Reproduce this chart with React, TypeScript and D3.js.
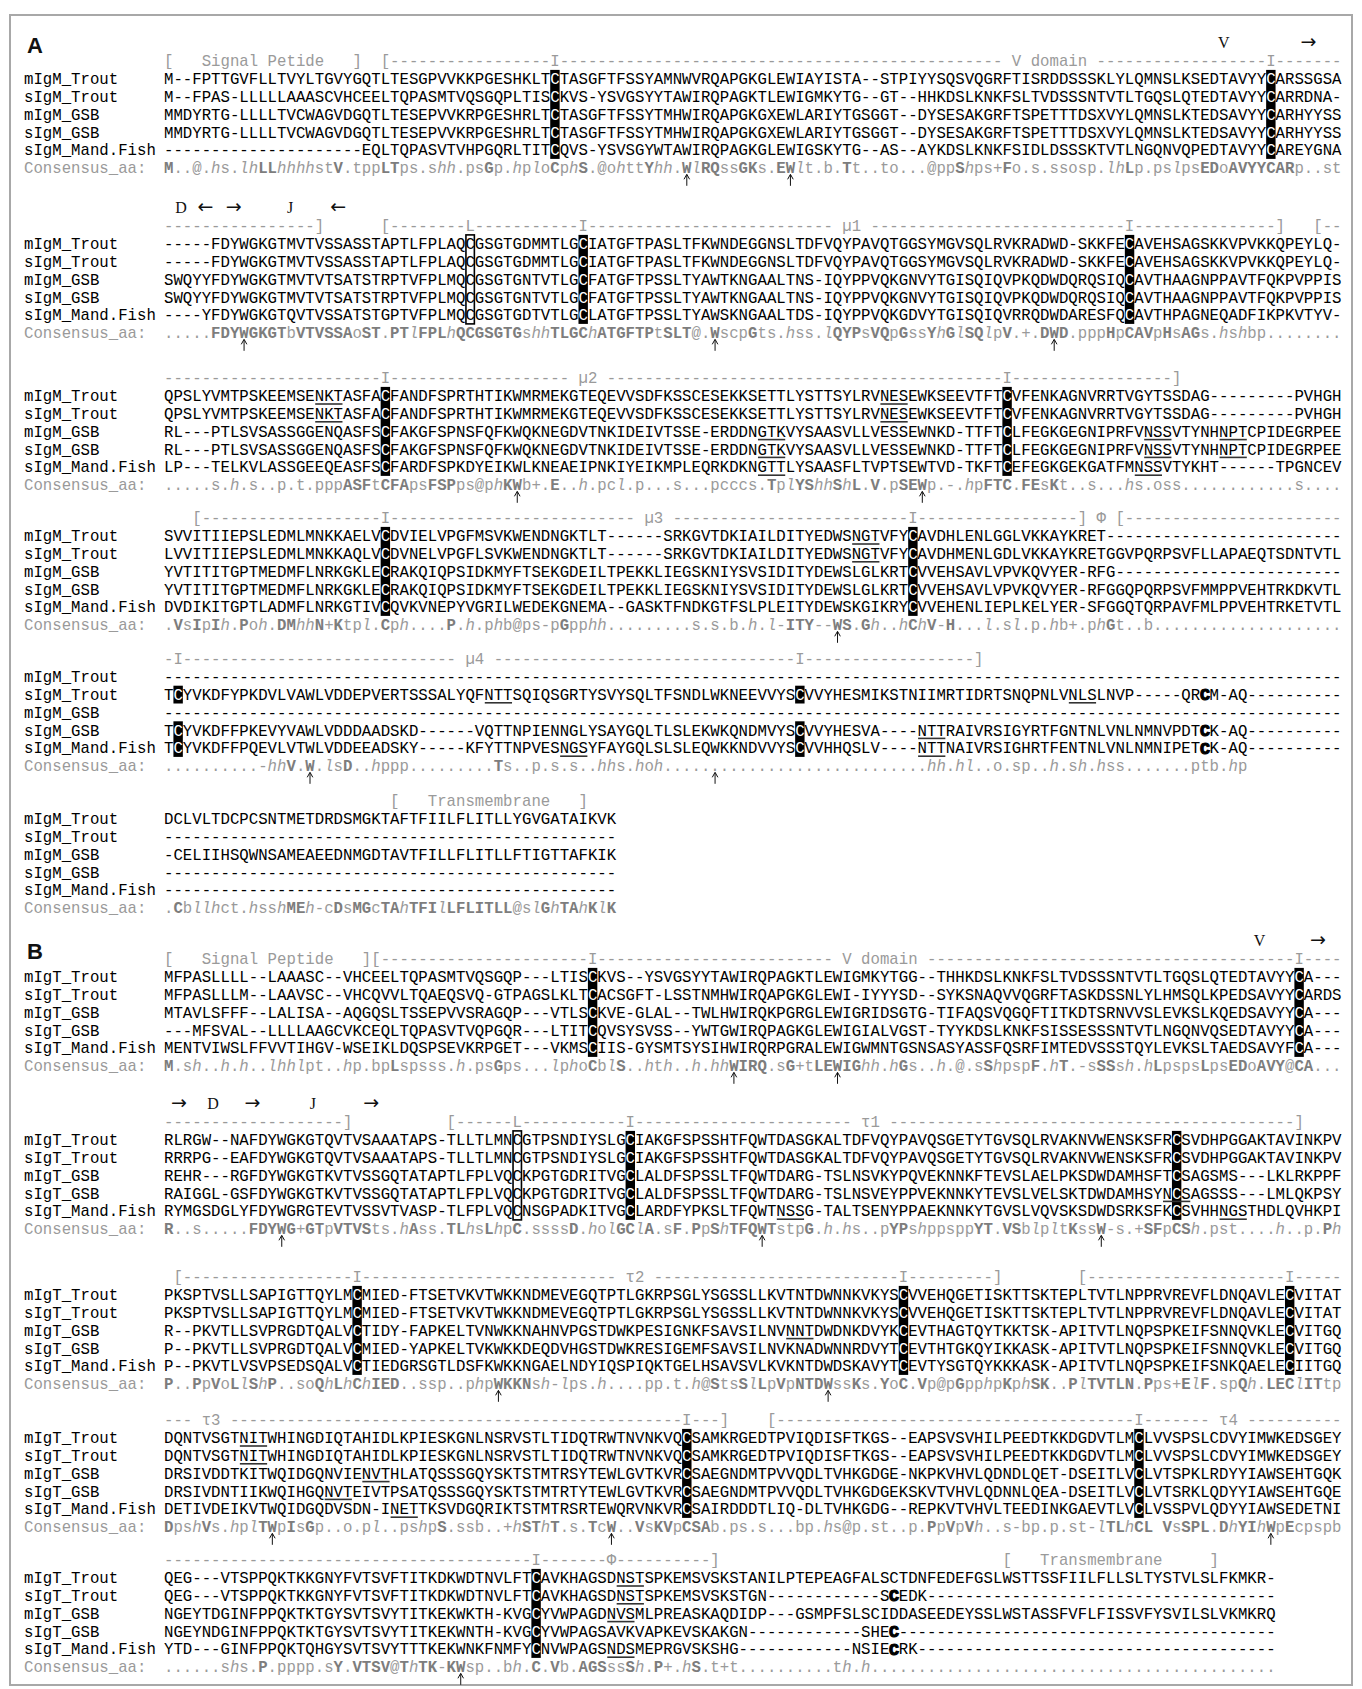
import React from "react";
import * as d3 from "d3";

const dash = (n: number) => "-".repeat(n);
const gap = (n: number) => " ".repeat(n);

// ---------------- panel A : IgM ----------------
const namesA = ["mIgM_Trout", "sIgM_Trout", "mIgM_GSB", "sIgM_GSB", "sIgM_Mand.Fish"];

const annA1 = "[   Signal Petide   ]  [" + dash(17) + "I" + dash(47) + " V domain " + dash(18) + "I" + dash(7);
const headA1: [number, string][] = [[112.5, "V"], [121.5, "\u2192"]];
const seqA1 = [
  "M--FPTTGVFLLTVYLTGVYGQTLTESGPVVKKPGESHKLTCTASGFTFSSYAMNWVRQAPGKGLEWIAYISTA--STPIYYSQSVQGRFTISRDDSSSKLYLQMNSLKSEDTAVYYCARSSGSA",
  "M--FPAS-LLLLLAAASCVHCEELTQPASMTVQSGQPLTISCKVS-YSVGSYYTAWIRQPAGKTLEWIGMKYTG--GT--HHKDSLKNKFSLTVDSSSNTVTLTGQSLQTEDTAVYYCARRDNA-",
  "MMDYRTG-LLLLTVCWAGVDGQTLTESEPVVKRPGESHRLTCTASGFTFSSYTMHWIRQAPGKGXEWLARIYTGSGGT--DYSESAKGRFTSPETTTDSXVYLQMNSLKTEDSAVYYCARHYYSS",
  "MMDYRTG-LLLLTVCWAGVDGQTLTESEPVVKRPGESHRLTCTASGFTFSSYTMHWIRQAPGKGXEWLARIYTGSGGT--DYSESAKGRFTSPETTTDSXVYLQMNSLKTEDSAVYYCARHYYSS",
  "---------------------EQLTQPASVTVHPGQRLTITCQVS-YSVSGYWTAWIRQPAGKGLEWIGSKYTG--AS--AYKDSLKNKFSIDLDSSSKTVTLNGQNVQPEDTAVYYCAREYGNA",
];
const consA1 = "M..@.hs.lhLLhhhhstV.tppLTps.shh.psGp.hploCphS.@ohttYhh.WlRQssGKs.EWlt.b.Tt..to...@ppShps+Fo.s.ssosp.lhLp.pslpsEDoAVYYCARp..st";
const boxA1 = [41, 117];
const arrowA1 = [55, 66];

const annA2 = dash(16) + "]" + gap(6) + "[" + dash(8) + "L" + dash(11) + "I" + dash(26) + " \u00b51 " + dash(27) + "I" + dash(15) + "]" + gap(3) + "[--";
const headA2: [number, string][] = [[1.8, "D"], [4.4, "\u2190"], [7.4, "\u2192"], [13.4, "J"], [18.5, "\u2190"]];
const seqA2 = [
  "-----FDYWGKGTMVTVSSASSTAPTLFPLAQCGSGTGDMMTLGCIATGFTPASLTFKWNDEGGNSLTDFVQYPAVQTGGSYMGVSQLRVKRADWD-SKKFECAVEHSAGSKKVPVKKQPEYLQ-",
  "-----FDYWGKGTMVTVSSASSTAPTLFPLAQCGSGTGDMMTLGCIATGFTPASLTFKWNDEGGNSLTDFVQYPAVQTGGSYMGVSQLRVKRADWD-SKKFECAVEHSAGSKKVPVKKQPEYLQ-",
  "SWQYYFDYWGKGTMVTVTSATSTRPTVFPLMQCGSGTGNTVTLGCFATGFTPSSLTYAWTKNGAALTNS-IQYPPVQKGNVYTGISQIQVPKQDWDQRQSIQCAVTHAAGNPPAVTFQKPVPPIS",
  "SWQYYFDYWGKGTMVTVTSATSTRPTVFPLMQCGSGTGNTVTLGCFATGFTPSSLTYAWTKNGAALTNS-IQYPPVQKGNVYTGISQIQVPKQDWDQRQSIQCAVTHAAGNPPAVTFQKPVPPIS",
  "----YFDYWGKGTQVTVSSATSTGPTVFPLMQCGSGTGDTVTLGCLATGFTPSSLTYAWSKNGAALTDS-IQYPPVQKGDVYTGISQIQVRRQDWDARESFQCAVTHPAGNEQADFIKPKVTYV-",
];
const consA2 = ".....FDYWGKGTbVTVSSAoST.PTlFPLhQCGSGTGshhTLGChATGFTPtSLT@.WscpGts.hss.lQYPsVQpGssYhGlSQlpV.+.DWD.pppHpCAVpHsAGs.hshbp........";
const boxA2 = [44, 102];
const hollowA2 = [32];
const arrowA2 = [8, 58, 94];

const annA3 = dash(23) + "I" + dash(19) + " \u00b52 " + dash(42) + "I" + dash(17) + "]";
const seqA3 = [
  "QPSLYVMTPSKEEMSENKTASFACFANDFSPRTHTIKWMRMEKGTEQEVVSDFKSSCESEKKSETTLYSTTSYLRVNESEWKSEEVTFTCVFENKAGNVRRTVGYTSSDAG---------PVHGH",
  "QPSLYVMTPSKEEMSENKTASFACFANDFSPRTHTIKWMRMEKGTEQEVVSDFKSSCESEKKSETTLYSTTSYLRVNESEWKSEEVTFTCVFENKAGNVRRTVGYTSSDAG---------PVHGH",
  "RL---PTLSVSASSGGENQASFSCFAKGFSPNSFQFKWQKNEGDVTNKIDEIVTSSE-ERDDNGTKVYSAASVLLVESSEWNKD-TTFTCLFEGKGEGNIPRFVNSSVTYNHNPTCPIDEGRPEE",
  "RL---PTLSVSASSGGENQASFSCFAKGFSPNSFQFKWQKNEGDVTNKIDEIVTSSE-ERDDNGTKVYSAASVLLVESSEWNKD-TTFTCLFEGKGEGNIPRFVNSSVTYNHNPTCPIDEGRPEE",
  "LP---TELKVLASSGEEQEASFSCFARDFSPKDYEIKWLKNEAEIPNKIYEIKMPLEQRKDKNGTTLYSAASFLTVPTSEWTVD-TKFTCEFEGKGEKGATFMNSSVTYKHT------TPGNCEV",
];
const consA3 = ".....s.h.s..p.t.pppASFtCFApsFSPps@phKWb+.E..h.pcl.p...s...pcccs.TplYShhShL.V.pSEWp.-.hpFTC.FEsKt..s...hs.oss............s....";
const boxA3 = [23, 89];
const underA3: [number, number, number][] = [
  [0, 16, 3], [0, 76, 3], [1, 16, 3], [1, 76, 3],
  [2, 63, 3], [2, 104, 3], [2, 112, 3], [3, 63, 3], [3, 104, 3], [3, 112, 3],
  [4, 63, 3], [4, 103, 3],
];
const arrowA3 = [37, 80];

const annA4 = "   [" + dash(19) + "I" + dash(26) + " \u00b53 " + dash(25) + "I" + dash(17) + "] \u03a6 [" + dash(23);
const seqA4 = [
  "SVVITIIEPSLEDMLMNKKAELVCDVIELVPGFMSVKWENDNGKTLT------SRKGVTDKIAILDITYEDWSNGTVFYCAVDHLENLGGLVKKAYKRET" + dash(25),
  "LVVITIIEPSLEDMLMNKKAQLVCDVNELVPGFLSVKWENDNGKTLT------SRKGVTDKIAILDITYEDWSNGTVFYCAVDHMENLGDLVKKAYKRETGGVPQRPSVFLLAPAEQTSDNTVTL",
  "YVTITITGPTMEDMFLNRKGKLECRAKQIQPSIDKMYFTSEKGDEILTPEKKLIEGSKNIYSVSIDITYDEWSLGLKRTCVVEHSAVLVPVKQVYER-RFG" + dash(24),
  "YVTITITGPTMEDMFLNRKGKLECRAKQIQPSIDKMYFTSEKGDEILTPEKKLIEGSKNIYSVSIDITYDEWSLGLKRTCVVEHSAVLVPVKQVYER-RFGGQPQRPSVFMMPPVEHTRKDKVTL",
  "DVDIKITGPTLADMFLNRKGTIVCQVKVNEPYVGRILWEDEKGNEMA--GASKTFNDKGTFSLPLEITYDEWSKGIKRYCVVEHENLIEPLKELYER-SFGGQTQRPAVFMLPPVEHTRKETVTL",
];
const consA4 = ".VsIpIh.Poh.DMhhN+Ktpl.Cph....P.h.phb@ps-pGpphh.........s.s.b.h.l-ITY--WS.Gh..hChV-H...l.sl.p.hb+.phGt..b" + ".".repeat(20);
const boxA4 = [23, 79];
const underA4: [number, number, number][] = [[0, 73, 3], [1, 73, 3]];
const arrowA4 = [71];

const annA5 = "-I" + dash(29) + " \u00b54 " + dash(32) + "I" + dash(18) + "]";
const seqA5 = [
  dash(125),
  "TCYVKDFYPKDVLVAWLVDDEPVERTSSSALYQFNTTSQIQSGRTYSVYSQLTFSNDLWKNEEVVYSCVVYHESMIKSTNIIMRTIDRTSNQPNLVNLSLNVP-----QRCM-AQ" + dash(10),
  dash(125),
  "TCYVKDFFPKEVYVAWLVDDDAADSKD------VQTTNPIENNGLYSAYGQLTLSLEKWKQNDMVYSCVVYHESVA----NTTRAIVRSIGYRTFGNTNLVNLNMNVPDTCK-AQ" + dash(10),
  "TCYVKDFFPQEVLVTWLVDDEEADSKY-----KFYTTNPVESNGSYFAYGQLSLSLEQWKKNDVVYSCVVHHQSLV----NTTNAIVRSIGHRTFENTNLVNLNMNIPETCK-AQ" + dash(10),
];
const consA5 = "..........-hhV.W.lsD..hppp.........Ts..p.s.s..hhs.hoh" + ".".repeat(28) + "hh.hl..o.sp..h.sh.hss.......ptb.hp";
const boxA5 = [1, 67];
const boldA5: [number, number][] = [[1, 110], [3, 110], [4, 110]];
const underA5: [number, number, number][] = [[1, 34, 3], [1, 96, 3], [3, 80, 3], [4, 42, 3], [4, 80, 3]];
const arrowA5 = [15, 58];

const annA6 = gap(24) + "[   Transmembrane   ]";
const seqA6 = [
  "DCLVLTDCPCSNTMETDRDSMGKTAFTFIILFLITLLYGVGATAIKVK",
  dash(48),
  "-CELIIHSQWNSAMEAEEDNMGDTAVTFILLFLITLLFTIGTTAFKIK",
  dash(48),
  dash(48),
];
const consA6 = ".Cbllhct.hsshMEh-cDsMGcTAhTFIlLFLITLL@slGhTAhKlK";

// ---------------- panel B : IgT ----------------
const namesB = ["mIgT_Trout", "sIgT_Trout", "mIgT_GSB", "sIgT_GSB", "sIgT_Mand.Fish"];

const annB1 = "[   Signal Peptide   ][" + dash(22) + "I" + dash(25) + " V domain " + dash(39) + "I" + dash(4);
const headB1: [number, string][] = [[116.3, "V"], [122.5, "\u2192"]];
const seqB1 = [
  "MFPASLLLL--LAAASC--VHCEELTQPASMTVQSGQP---LTISCKVS--YSVGSYYTAWIRQPAGKTLEWIGMKYTGG--THHKDSLKNKFSLTVDSSSNTVTLTGQSLQTEDTAVYYCA---",
  "MFPASLLLM--LAAVSC--VHCQVVLTQAEQSVQ-GTPAGSLKLTCACSGFT-LSSTNMHWIRQAPGKGLEWI-IYYYSD--SYKSNAQVVQGRFTASKDSSNLYLHMSQLKPEDSAVYYCARDS",
  "MTAVLSFFF--LALISA--AQGQSLTSSEPVVSRAGQP---VTLSCKVE-GLAL--TWLHWIRQKPGRGLEWIGRIDSGTG-TIFAQSVQGQFTITKDTSRNVVSLEVKSLKQEDSAVYYCA---",
  "---MFSVAL--LLLLAAGCVKCEQLTQPASVTVQPGQR---LTITCQVSYSVSS--YWTGWIRQPAGKGLEWIGIALVGST-TYYKDSLKNKFSISSESSSNTVTLNGQNVQSEDTAVYYCA---",
  "MENTVIWSLFFVVTIHGV-WSEIKLDQSPSEVKRPGET---VKMSCIIS-GYSMTSYSIHWIRQRPGRALEWIGWMNTGSNSASYASSFQSRFIMTEDVSSSTQYLEVKSLTAEDSAVYFCA---",
];
const consB1 = "M.sh..h.h..lhhlpt..hp.bpLspsss.h.psGps...lphoCblS..hth..h.hhWIRQ.sG+tLEWIGhh.hGs..h.@.sShpspF.hT.-sSSsh.hLpspsLpsEDoAVY@CA...";
const boxB1 = [45, 120];
const arrowB1 = [60, 71];

const annB2 = dash(19) + "]" + gap(10) + "[" + dash(6) + "L" + dash(11) + "I" + dash(23) + " \u03c41 " + dash(43) + "]";
const headB2: [number, string][] = [[1.6, "\u2192"], [5.2, "D"], [9.4, "\u2192"], [15.8, "J"], [22, "\u2192"]];
const seqB2 = [
  "RLRGW--NAFDYWGKGTQVTVSAAATAPS-TLLTLMNCGTPSNDIYSLGCIAKGFSPSSHTFQWTDASGKALTDFVQYPAVQSGETYTGVSQLRVAKNVWENSKSFRCSVDHPGGAKTAVINKPV",
  "RRRPG--EAFDYWGKGTQVTVSAAATAPS-TLLTLMNCGTPSNDIYSLGCIAKGFSPSSHTFQWTDASGKALTDFVQYPAVQSGETYTGVSQLRVAKNVWENSKSFRCSVDHPGGAKTAVINKPV",
  "REHR---RGFDYWGKGTKVTVSSGQTATAPTLFPLVQCKPGTGDRITVGCLALDFSPSSLTFQWTDARG-TSLNSVKYPQVEKNNKFTEVSLAELPKSDWDAMHSFTCSAGSMS---LKLRKPPF",
  "RAIGGL-GSFDYWGKGTKVTVSSGQTATAPTLFPLVQCKPGTGDRITVGCLALDFSPSSLTFQWTDARG-TSLNSVEYPPVEKNNKYTEVSLVELSKTDWDAMHSYNCSAGSSS---LMLQKPSY",
  "RYMGSDGLYFDYWGRGTEVTVSSVTVASP-TLFPLVQCNSGPADKITVGCLARDFYPKSLTFQWTNSSG-TALTSENYPPAEKNNKYTGVSLVQVSKSDWDSRKSFKCSVHHNGSTHDLQVHKPI",
];
const consB2 = "R..s.....FDYWG+GTpVTVSts.hAss.TLhsLhpC.ssssD.holGClA.sF.PpShTFQWTstpG.h.hs..pYPshppsppYT.VSblpltKssW-s.+SFpCSh.pst....h..p.Ph";
const boxB2 = [49, 107];
const hollowB2 = [37];
const underB2: [number, number, number][] = [[3, 106, 3], [4, 65, 3], [4, 112, 3]];
const arrowB2 = [12, 63, 99];

const annB3 = " [" + dash(18) + "I" + dash(27) + " \u03c42 " + dash(26) + "I" + dash(9) + "]" + gap(8) + "[" + dash(21) + "I" + dash(5);
const seqB3 = [
  "PKSPTVSLLSAPIGTTQYLMCMIED-FTSETVKVTWKKNDMEVEGQTPTLGKRPSGLYSGSSLLKVTNTDWNNKVKYSCVVEHQGETISKTTSKTEPLTVTLNPPRVREVFLDNQAVLECVITAT",
  "PKSPTVSLLSAPIGTTQYLMCMIED-FTSETVKVTWKKNDMEVEGQTPTLGKRPSGLYSGSSLLKVTNTDWNNKVKYSCVVEHQGETISKTTSKTEPLTVTLNPPRVREVFLDNQAVLECVITAT",
  "R--PKVTLLSVPRGDTQALVCTIDY-FAPKELTVNWKKNAHNVPGSTDWKPESIGNKFSAVSILNVNNTDWDNKDVYKCEVTHAGTQYTKKTSK-APITVTLNQPSPKEIFSNNQVKLECVITGQ",
  "P--PKVTLLSVPRGDTQALVCMIED-YAPKELTVKWKKDEQDVHGSTDWKRESIGEMFSAVSILNVKNADWNNRDVYTCEVTHTGKQYIKKASK-APITVTLNQPSPKEIFSNNQVKLECVITGQ",
  "P--PKVTLVSVPSEDSQALVCTIEDGRSGTLDSFKWKKNGAELNDYIQSPIQKTGELHSAVSVLKVKNTDWDSKAVYTCEVTYSGTQYKKKASK-APITVTLNQPSPKEIFSNKQAELECIITGQ",
];
const consB3 = "P..PpVoLlShP..soQhLhChIED..ssp..phpWKKNsh-lps.h....pp.t.h@StsSlLpVpNTDWssKs.YoC.Vp@pGpphpKphSK..PlTVTLN.Pps+ElF.spQh.LEClITtp";
const boxB3 = [20, 78, 119];
const underB3: [number, number, number][] = [[2, 66, 3]];
const arrowB3 = [35, 70];

const annB4 = "--- \u03c43 " + dash(48) + "I" + dash(3) + "]" + gap(4) + "[" + dash(38) + "I" + dash(7) + " \u03c44 " + dash(10);
const seqB4 = [
  "DQNTVSGTNITWHINGDIQTAHIDLKPIESKGNLNSRVSTLTIDQTRWTNVNKVQCSAMKRGEDTPVIQDISFTKGS--EAPSVSVHILPEEDTKKDGDVTLMCLVVSPSLCDVYIMWKEDSGEY",
  "DQNTVSGTNITWHINGDIQTAHIDLKPIESKGNLNSRVSTLTIDQTRWTNVNKVQCSAMKRGEDTPVIQDISFTKGS--EAPSVSVHILPEEDTKKDGDVTLMCLVVSPSLCDVYIMWKEDSGEY",
  "DRSIVDDTKITWQIDGQNVIENVTHLATQSSSGQYSKTSTMTRSYTEWLGVTKVRCSAEGNDMTPVVQDLTVHKGDGE-NKPKVHVLQDNDLQET-DSEITLVCLVTSPKLRDYYIAWSEHTGQK",
  "DRSIVDNTIIKWQIHGQNVTEIVTPSATQSSSGQYSKTSTMTRTYTEWLGVTKVRCSAEGNDMTPVVQDLTVHKGDGEKSKVTVHVLQDNNLQEA-DSEITLVCLVTSRKLQDYYIAWSEHTGQE",
  "DETIVDEIKVTWQIDGQDVSDN-INETTKSVDGQRIKTSTMTRSRTEWQRVNKVRCSAIRDDDTLIQ-DLTVHKGDG--REPKVTVHVLTEEDINKGAEVTLVCLVSSPVLQDYYIAWSEDETNI",
];
const consB4 = "DpshVs.hplTWpIsGp..o.pl..pshpS.ssb..+hSThT.s.TcW..VsKVpCSAb.ps.s...bp.hs@p.st..p.PpVpVh..s-bp.p.st-lTLhCL VsSPL.DhYIhWpEcpspb";
const boxB4 = [55, 103];
const underB4: [number, number, number][] = [[0, 8, 3], [1, 8, 3], [2, 21, 3], [3, 17, 3], [4, 24, 3]];
const arrowB4 = [11, 47, 117];

const annB5 = dash(39) + "I" + dash(7) + "\u03a6" + dash(10) + "]" + gap(30) + "[   Transmembrane     ]";
const seqB5 = [
  "QEG---VTSPPQKTKKGNYFVTSVFTITKDKWDTNVLFTCAVKHAGSDNSTSPKEMSVSKSTANILPTEPEAGFALSCTDNFEDEFGSLWSTTSSFIILFLLSLTYSTVLSLFKMKR-",
  "QEG---VTSPPQKTKKGNYFVTSVFTITKDKWDTNVLFTCAVKHAGSDNSTSPKEMSVSKSTGN" + dash(12) + "SCEDK" + dash(37),
  "NGEYTDGINFPPQKTKTGYSVTSVYTITKEKWKTH-KVGCYVWPAGDNVSMLPREASKAQDIDP---GSMPFSLSCIDDASEEDEYSSLWSTASSFVFLFISSVFYSVILSLVKMKRQ",
  "NGEYNDGINFPPQKTKTGYSVTSVYTITKEKWNTH-KVGCYVWPAGSAVKVAPKEVSKAKGN" + dash(12) + "SHEC" + dash(40),
  "YTD---GINFPPQKTQHGYSVTSVYTTTKEKWNKFNMFYCNVWPAGSNDSMEPRGVSKSHG" + dash(12) + "NSIECRK" + dash(38),
];
const consB5 = "......shs.P.pppp.sY.VTSV@ThTK-KWsp..bh.C.Vb.AGSssSh.P+.hS.t+t" + ".".repeat(10) + "th.h" + ".".repeat(43);
const boxB5 = [39];
const boldB5: [number, number][] = [[1, 77], [3, 77], [4, 77]];
const underB5: [number, number, number][] = [[0, 48, 3], [1, 48, 3], [2, 47, 3], [4, 47, 3]];
const arrowB5 = [31];

type Block = {
  ann: string;
  head?: [number, string][];
  seqs: string[];
  cons: string;
  boxes?: number[];
  hollow?: number[];
  bold?: [number, number][];
  under?: [number, number, number][];
  arrows?: number[];
};

const blocksA: Block[] = [
  { ann: annA1, head: headA1, seqs: seqA1, cons: consA1, boxes: boxA1, arrows: arrowA1 },
  { ann: annA2, head: headA2, seqs: seqA2, cons: consA2, boxes: boxA2, hollow: hollowA2, arrows: arrowA2 },
  { ann: annA3, seqs: seqA3, cons: consA3, boxes: boxA3, under: underA3, arrows: arrowA3 },
  { ann: annA4, seqs: seqA4, cons: consA4, boxes: boxA4, under: underA4, arrows: arrowA4 },
  { ann: annA5, seqs: seqA5, cons: consA5, boxes: boxA5, bold: boldA5, under: underA5, arrows: arrowA5 },
  { ann: annA6, seqs: seqA6, cons: consA6 },
];
const blocksB: Block[] = [
  { ann: annB1, head: headB1, seqs: seqB1, cons: consB1, boxes: boxB1, arrows: arrowB1 },
  { ann: annB2, head: headB2, seqs: seqB2, cons: consB2, boxes: boxB2, hollow: hollowB2, under: underB2, arrows: arrowB2 },
  { ann: annB3, seqs: seqB3, cons: consB3, boxes: boxB3, under: underB3, arrows: arrowB3 },
  { ann: annB4, seqs: seqB4, cons: consB4, boxes: boxB4, under: underB4, arrows: arrowB4 },
  { ann: annB5, seqs: seqB5, cons: consB5, boxes: boxB5, bold: boldB5, under: underB5, arrows: arrowB5 },
];

// ---------------- layout ----------------
const W = 1362;
const H = 1689;
const NCOL = 125;
const X0 = 164;
const CW = 9.42;
const ROW_H = 17.8;
const NAME_X = 24;
const FS = 15.7;
const TOPS_A = [61, 226, 378, 518, 659, 801];
const TOPS_B = [959, 1122, 1277, 1420, 1560];
const MONO = "'Liberation Mono', 'DejaVu Sans Mono', monospace";
const GREY = "#9a9a9a";

const colX = d3.scaleLinear().domain([0, NCOL]).range([X0, X0 + NCOL * CW]);
const mid = (i: number) => colX(i) + CW / 2;

// a row of residues, one glyph per alignment column; split where a residue is drawn elsewhere
function Glyphs({ str, y, fill, skip }: { str: string; y: number; fill: string; skip?: Set<number> }) {
  const segs: { xs: number[]; chars: string }[] = [];
  let cur: { xs: number[]; chars: string } | null = null;
  for (let i = 0; i < str.length; i++) {
    if (skip && skip.has(i)) {
      cur = null;
      continue;
    }
    if (str[i] === " ") continue;
    if (!cur) {
      cur = { xs: [], chars: "" };
      segs.push(cur);
    }
    cur.xs.push(mid(i));
    cur.chars += str[i];
  }
  return (
    <>
      {segs.map((s, k) => (
        <text key={k} x={s.xs.map((v) => v.toFixed(2)).join(" ")} y={y} textAnchor="middle" fill={fill}>
          {s.chars}
        </text>
      ))}
    </>
  );
}

function Consensus({ str, y }: { str: string; y: number }) {
  return (
    <text y={y} textAnchor="middle">
      {str.split("").map((ch, i) => {
        if (ch === " ") return null;
        const upper = ch >= "A" && ch <= "Z";
        const ital = ch === "h" || ch === "l";
        return (
          <tspan
            key={i}
            x={mid(i)}
            fill={upper ? "#7d7d7d" : GREY}
            fontWeight={upper ? "bold" : "normal"}
            fontStyle={ital ? "italic" : "normal"}
          >
            {ch}
          </tspan>
        );
      })}
    </text>
  );
}

function AlignBlock({ blk, names, top }: { blk: Block; names: string[]; top: number }) {
  const y = d3.scaleLinear().domain([0, 6]).range([top, top + 6 * ROW_H]);
  const base = 5.3;
  const consY = y(6);

  // runs of consecutive rows holding the boxed cysteine
  const runs: { c: number; r0: number; r1: number }[] = [];
  const skips = blk.seqs.map(() => new Set<number>());
  (blk.boxes || []).forEach((c) => {
    let r = 0;
    while (r < blk.seqs.length) {
      if (blk.seqs[r][c] === "C") {
        let e = r;
        while (e + 1 < blk.seqs.length && blk.seqs[e + 1][c] === "C") e++;
        runs.push({ c, r0: r, r1: e });
        for (let k = r; k <= e; k++) skips[k].add(c);
        r = e + 1;
      } else r++;
    }
  });
  (blk.bold || []).forEach(([r, c]) => skips[r].add(c));

  return (
    <g fontFamily={MONO} fontSize={FS}>
      {(blk.head || []).map(([c, t], i) => {
        const letter = t === "V" || t === "D" || t === "J";
        return (
          <text
            key={"h" + i}
            x={colX(c)}
            y={top - 13}
            textAnchor="middle"
            fill="#111"
            fontFamily={letter ? "'Liberation Serif', serif" : "'DejaVu Sans', sans-serif"}
            fontSize={letter ? 16 : 19}
          >
            {t}
          </text>
        );
      })}
      <Glyphs str={blk.ann} y={y(0) + base} fill={GREY} />
      {blk.seqs.map((s, r) => (
        <g key={"r" + r}>
          <text x={NAME_X} y={y(r + 1) + base} fill="#000">
            {names[r]}
          </text>
          <Glyphs str={s} y={y(r + 1) + base} fill="#000" skip={skips[r]} />
        </g>
      ))}
      {runs.map((run, i) => (
        <g key={"b" + i}>
          <rect
            x={colX(run.c)}
            width={CW}
            y={y(run.r0 + 1) - ROW_H / 2}
            height={(run.r1 - run.r0 + 1) * ROW_H}
            fill="#000"
          />
          {d3.range(run.r0, run.r1 + 1).map((r) => (
            <text key={r} x={mid(run.c)} y={y(r + 1) + base} textAnchor="middle" fill="#fff">
              C
            </text>
          ))}
        </g>
      ))}
      {(blk.hollow || []).map((c, i) => (
        <rect
          key={"o" + i}
          x={colX(c) + 0.5}
          width={CW - 1}
          y={y(1) - ROW_H / 2}
          height={5 * ROW_H}
          fill="none"
          stroke="#000"
          strokeWidth={1.6}
        />
      ))}
      {(blk.bold || []).map(([r, c], i) => (
        <text
          key={"B" + i}
          x={mid(c)}
          y={y(r + 1) + base + 0.5}
          textAnchor="middle"
          fill="#000"
          stroke="#000"
          strokeWidth={1.2}
          fontWeight="bold"
          fontSize={FS + 1}
        >
          C
        </text>
      ))}
      {(blk.under || []).map(([r, c, n], i) => (
        <line
          key={"u" + i}
          x1={colX(c) + 0.5}
          x2={colX(c + n) - 0.5}
          y1={y(r + 1) + 8.2}
          y2={y(r + 1) + 8.2}
          stroke="#333"
          strokeWidth={1.6}
        />
      ))}
      <text x={NAME_X} y={consY + base} fill={GREY}>
        Consensus_aa:
      </text>
      <Consensus str={blk.cons} y={consY + base} />
      {(blk.arrows || []).map((c, i) => {
        const x = mid(c);
        return (
          <path
            key={"a" + i}
            d={`M${x},${consY + 18} L${x},${consY + 7} M${x - 2.8},${consY + 11.5} L${x},${consY + 6.5} L${x + 2.8},${consY + 11.5}`}
            stroke="#111"
            strokeWidth={1}
            fill="none"
          />
        );
      })}
    </g>
  );
}

export default function App() {
  return (
    <div>
      <style>{`body{margin:0;background:#fff}`}</style>
      <svg width={W} height={H} viewBox={`0 0 ${W} ${H}`} style={{ display: "block" }}>
        <rect x={0} y={0} width={W} height={H} fill="#fff" />
        <rect x={10} y={15} width={1342} height={1670} fill="none" stroke="#a8a8a8" strokeWidth={2} />
        <text x={27} y={53} fontFamily="'Liberation Sans', Arial, sans-serif" fontWeight="bold" fontSize={22} fill="#111">
          A
        </text>
        <text x={27} y={959} fontFamily="'Liberation Sans', Arial, sans-serif" fontWeight="bold" fontSize={22} fill="#111">
          B
        </text>
        {blocksA.map((b, i) => (
          <AlignBlock key={"A" + i} blk={b} names={namesA} top={TOPS_A[i]} />
        ))}
        {blocksB.map((b, i) => (
          <AlignBlock key={"B" + i} blk={b} names={namesB} top={TOPS_B[i]} />
        ))}
      </svg>
    </div>
  );
}
